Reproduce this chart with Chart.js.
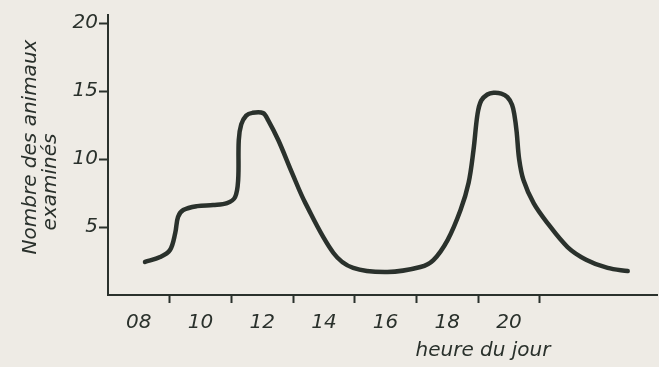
<!DOCTYPE html>
<html>
<head>
<meta charset="utf-8">
<script src="https://cdn.jsdelivr.net/npm/chart.js@4"></script>
<style>
  body { margin: 0; background: #eeebe5; }
  #wrap { width: 659px; height: 367px; }
</style>
</head>
<body>
<div id="wrap"><canvas id="myChart"></canvas></div>
<script>
// hour of day and number of animals examined
const hours = [8.2, 8.69, 9.01, 9.18, 9.27, 9.44, 9.89, 10.41, 10.86, 11.12, 11.22, 11.24, 11.32, 11.48, 11.68, 12.03, 12.19, 12.52, 12.97, 13.4, 14.31, 14.95, 16.06, 17.13, 17.55, 18.01, 18.43, 18.69, 18.85, 18.98, 19.1, 19.3, 19.5, 19.75, 19.95, 20.1, 20.18, 20.25, 20.33, 20.47, 20.8, 21.25, 21.9, 22.5, 23.2, 23.85];
const counts = [2.43, 2.79, 3.31, 4.56, 5.74, 6.25, 6.54, 6.62, 6.76, 7.2, 8.46, 11.4, 12.55, 13.2, 13.4, 13.38, 12.87, 11.4, 8.97, 6.76, 3.09, 1.99, 1.69, 2.06, 2.57, 4.04, 6.25, 8.24, 10.66, 13.3, 14.3, 14.75, 14.88, 14.82, 14.56, 14.0, 13.2, 12.0, 10.0, 8.46, 6.76, 5.29, 3.53, 2.6, 1.99, 1.76];
const hourLabels = [8, 10, 12, 14, 16, 18, 20];
const hourMarks = [9, 11, 13, 15, 17, 19, 21];
const yTicks = [5, 10, 15, 20];

const ink = '#2a312c';
const font = { family: 'DejaVu Sans', size: 20, style: 'italic' };

const points = hours.map((h, i) => ({ x: h, y: counts[i] }));

const titles = {
    id: 'titles',
    afterDraw(chart) {
        const ctx = chart.ctx;
        ctx.save();
        ctx.fillStyle = ink;
        ctx.font = 'italic 20px "DejaVu Sans"';
        ctx.textAlign = 'center';
        ctx.textBaseline = 'middle';
        ctx.save();
        ctx.translate(31, 147);
        ctx.rotate(-Math.PI / 2);
        ctx.fillText('Nombre des animaux', 0, 0);
        ctx.restore();
        ctx.save();
        ctx.translate(51, 182);
        ctx.rotate(-Math.PI / 2);
        ctx.fillText('examinés', 0, 0);
        ctx.restore();
        ctx.fillText('heure du jour', 483, 351);
        ctx.restore();
    }
};

new Chart(document.getElementById('myChart'), {
    type: 'line',
    data: {
        datasets: [{
            data: points,
            borderColor: ink,
            borderWidth: 4.5,
            borderCapStyle: 'round',
            borderJoinStyle: 'round',
            pointRadius: 0,
            fill: false,
            tension: 0.35
        }]
    },
    options: {
        responsive: true,
        maintainAspectRatio: false,
        animation: false,
        layout: { padding: { left: 0, right: 2, top: 15, bottom: 0 } },
        plugins: { legend: { display: false }, tooltip: { enabled: false } },
        scales: {
            x: {
                type: 'linear',
                min: 7,
                max: 24.8,
                afterFit(s) { s.height = 72; },
                border: { color: ink, width: 2 },
                grid: {
                    drawOnChartArea: false,
                    tickLength: 8,
                    tickWidth: 2,
                    tickColor: c => (c.tick && hourMarks.includes(c.tick.value)) ? ink : 'rgba(0,0,0,0)'
                },
                ticks: {
                    stepSize: 1,
                    autoSkip: false,
                    maxRotation: 0,
                    includeBounds: false,
                    padding: 8,
                    color: ink,
                    font: font,
                    callback: v => hourLabels.includes(v) ? String(v).padStart(2, '0') : ''
                }
            },
            y: {
                min: 0,
                max: 20.6,
                afterFit(s) { s.width = 108; },
                border: { color: ink, width: 2 },
                grid: {
                    drawOnChartArea: false,
                    tickLength: 9,
                    tickWidth: 2,
                    tickColor: c => (c.tick && yTicks.includes(c.tick.value)) ? ink : 'rgba(0,0,0,0)'
                },
                ticks: {
                    stepSize: 5,
                    includeBounds: false,
                    padding: 1,
                    color: ink,
                    font: font,
                    callback: v => yTicks.includes(v) ? v : ''
                }
            }
        }
    },
    plugins: [titles]
});
</script>
</body>
</html>
